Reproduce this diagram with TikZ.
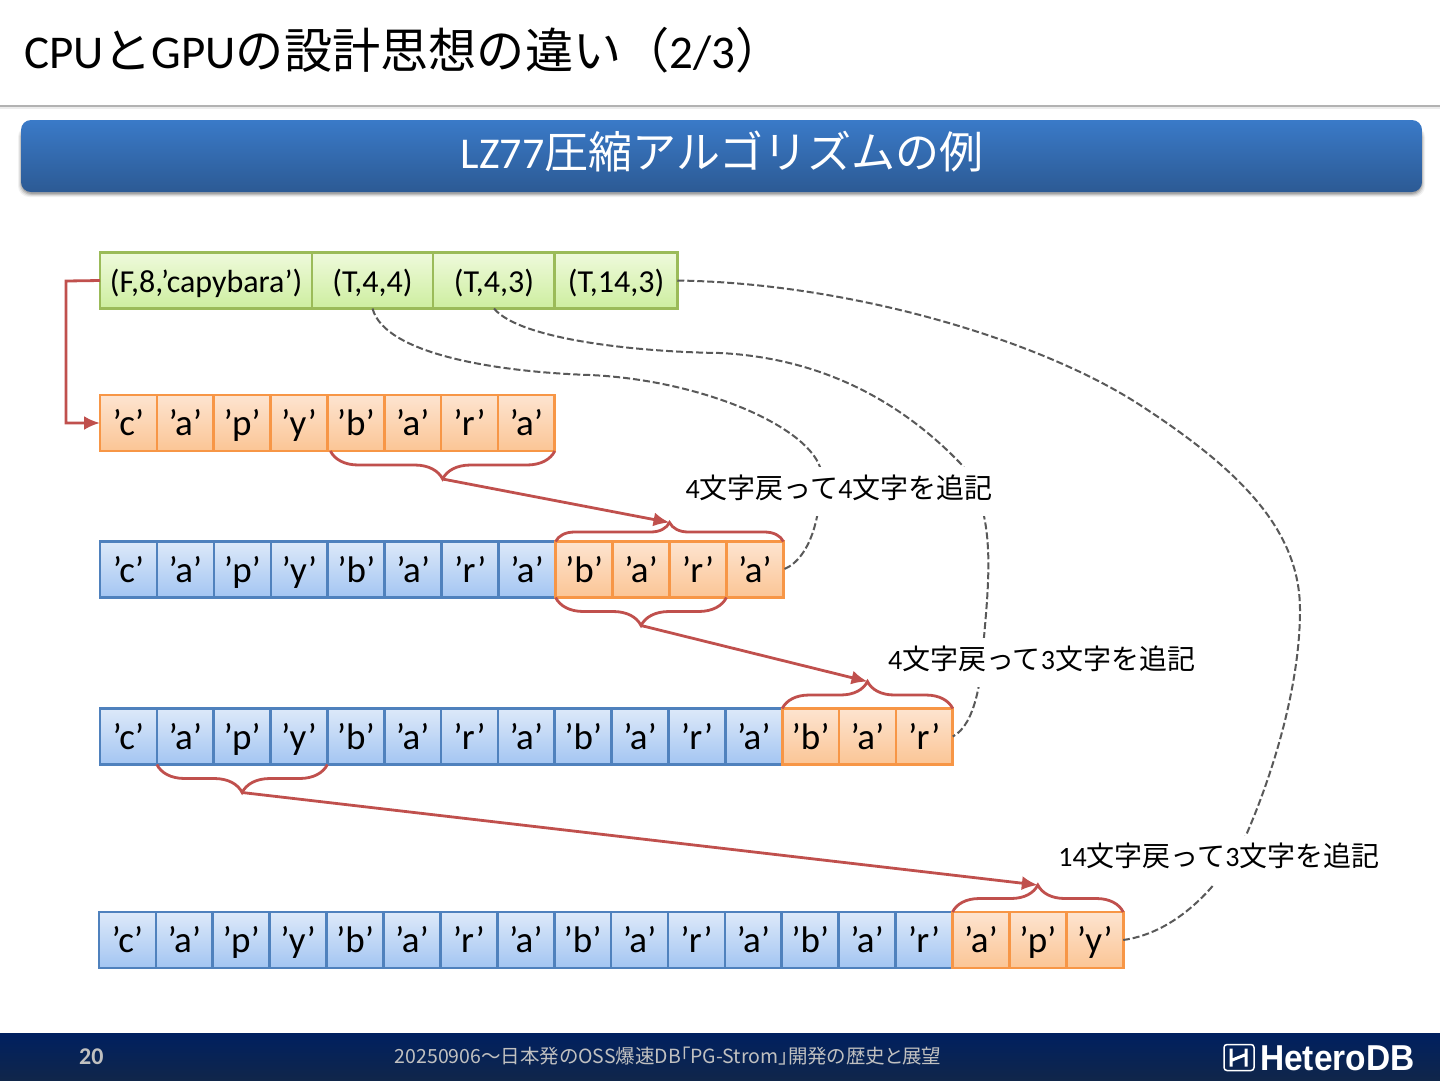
\documentclass[tikz,border=0pt]{standalone}
\usepackage{fontspec}
\usetikzlibrary{arrows.meta,calc,decorations.pathreplacing,shadings}
\setmainfont{Carlito}
\newfontfamily\cjk{Noto Sans CJK JP}
\newfontfamily\cjkp[RawFeature=+palt]{Noto Sans CJK JP}
\newfontfamily\logofont{Liberation Sans}
\newcommand\J[1]{{\cjk #1}}
\newcommand\fsz[1]{\fontsize{#1}{#1}\selectfont}
\definecolor{redline}{HTML}{C0504D}
\definecolor{orangeedge}{HTML}{F79646}
\definecolor{greenedge}{HTML}{9BBB59}
\definecolor{blueedge}{HTML}{4F81BD}
\definecolor{dashgray}{HTML}{595959}
\definecolor{bluetop}{HTML}{DDE9F9}
\definecolor{bluebot}{HTML}{A3C5F2}
\definecolor{greentop}{HTML}{EFFADC}
\definecolor{greenbot}{HTML}{CDEE9F}
\definecolor{orangetop}{HTML}{FDE4D0}
\definecolor{orangebot}{HTML}{FBC595}
\definecolor{foottxt}{HTML}{C0C0C0}
\tikzset{
  x=1pt,y=-1pt,
  basecell/.style={draw,line width=2.7pt,inner sep=0pt,outer sep=0pt,text=black,
    minimum height=56pt,text height=30pt,text depth=5pt,font=\fsz{37}},
  cellblue/.style={basecell,draw=blueedge,top color=bluetop,bottom color=bluebot},
  cellorange/.style={basecell,draw=orangeedge,top color=orangetop,bottom color=orangebot},
  cellgreen/.style={basecell,draw=greenedge,top color=greentop,bottom color=greenbot,
    text height=29pt,text depth=5pt,font=\fsz{32}},
  bracedown/.style={draw=redline,line width=2.8pt,decorate,decoration={brace,mirror,amplitude=28pt,raise=0pt}},
  braceup/.style={draw=redline,line width=2.8pt,decorate,decoration={brace,amplitude=#1,raise=0pt}},
  redarrow/.style={draw=redline,line width=2.8pt,-{Latex[length=16pt,width=14pt]}},
  dashcurve/.style={draw=dashgray,line width=2pt,dash pattern=on 7pt off 3pt},
  note/.style={fill=white,inner xsep=0pt,inner ysep=5pt,text height=26pt,text depth=13pt,font=\fsz{28}},
}
\newcommand\cellrow[6]{%
  \foreach \t [count=\i] in {#6}{%
    \ifnum\i>#5\relax\def\st{cellorange}\else\def\st{cellblue}\fi
    \node[\st,minimum width=#3 pt] (#1c\i) at ({#2+(\i-.5)*#3},#4) {’\t’};
  }%
}
\begin{document}
\begin{tikzpicture}
\useasboundingbox (0,0) rectangle (1440,1080);
\fill[white] (0,0) rectangle (1440,1080);
% header
\fill[gray!15] (0,106) rectangle (1440,109);
\fill[gray!60] (0,104.5) rectangle (1440,106.5);
\node[anchor=base west,inner sep=0pt,font=\fsz{47},text=black] (title) at (24,68)
  {CPU{\fsz{48.2}\J{と}}GPU{\fsz{48.2}\J{の設計思想の違い（}}2/3{\fsz{48.2}\J{）}}};
% band
\foreach \o/\e in {.05/3,.08/2,.12/1,.15/0}{
  \fill[black,opacity=\o,rounded corners=11pt] (21-\e,126) rectangle (1422+\e,194+\e);
}
\node[rounded corners=10pt,minimum width=1401pt,minimum height=72pt,inner sep=0pt,
  top color={rgb,255:red,58;green,122;blue,200},bottom color={rgb,255:red,44;green,90;blue,148}] (band) at (721.5,156) {};
\node[anchor=base,inner sep=0pt,text=white,font=\fsz{44}] (bandtext) at (722,168)
  {LZ77\J{圧縮アルゴリズムの例}};
% row 1
\node[cellgreen,minimum width=212pt] (a1) at (206,280.5) {(F,8,’capybara’)};
\node[cellgreen,minimum width=121pt] (a2) at (372.5,280.5) {(T,4,4)};
\node[cellgreen,minimum width=122pt] (a3) at (494,280.5) {(T,4,3)};
\node[cellgreen,minimum width=122.5pt] (a4) at (616,280.5) {(T,14,3)};
% cell rows
\cellrow{r2}{100}{56.85}{423}{0}{c,a,p,y,b,a,r,a}
\cellrow{r3}{100}{56.95}{569.5}{8}{c,a,p,y,b,a,r,a,b,a,r,a}
\cellrow{r4}{100}{56.85}{736.5}{12}{c,a,p,y,b,a,r,a,b,a,r,a,b,a,r}
\cellrow{r5}{99}{56.9}{940}{15}{c,a,p,y,b,a,r,a,b,a,r,a,b,a,r,a,p,y}
% dashed curves
\draw[dashcurve] (a2.south) .. controls (385,355) and (500,372) .. (590,375)
  .. controls (700,380) and (805,425) .. (820,467)
  .. controls (823,510) and (812,558) .. (r3c12.east);
\draw[dashcurve] (a3.south) .. controls (520,340) and (640,352) .. (720,353)
  .. controls (820,358) and (900,400) .. (962,465)
  .. controls (995,510) and (990,570) .. (984,637)
  .. controls (982,680) and (975,725) .. (r4c15.east);
\draw[dashcurve] (a4.east) .. controls (850,283) and (1040,340) .. (1140,405)
  .. controls (1240,470) and (1300,530) .. (1300,610)
  .. controls (1300,690) and (1270,780) .. (1247,833)
  .. controls (1225,880) and (1180,932) .. (r5c18.east);
% notes
\node[note,minimum width=310pt] (n1) at (839,491.5) {4\J{文字戻って}4\J{文字を追記}};
\node[note,minimum width=310pt] (n2) at (1041.5,662.5) {4\J{文字戻って}3\J{文字を追記}};
\node[note,minimum width=324pt] (n3) at (1219,860) {14\J{文字戻って}3\J{文字を追記}};
% red elbow
\coordinate (elbow1) at (66,281);
\coordinate (elbow2) at (66,423);
\draw[redarrow] (a1.west) -- (elbow1) -- (elbow2) -- (r2c1.west);
% braces
\coordinate (b1a) at ($(r2c5.south west)+(3,0)$);
\draw[bracedown] (b1a) -- (r2c8.south east);
\draw[braceup=19pt] (r3c9.north west) -- (r3c12.north east);
\draw[bracedown] (r3c9.south west) -- (r3c11.south east);
\draw[braceup=27pt] (r4c13.north west) -- (r4c15.north east);
\draw[bracedown] (r4c2.south west) -- (r4c4.south east);
\draw[braceup=27pt] (r5c16.north west) -- (r5c18.north east);
% brace tips and arrows
\coordinate (t1) at ($(b1a)!.5!(r2c8.south east)+(0,28)$);
\coordinate (h1) at ($(r3c9.north west)!.5!(r3c12.north east)+(0,-19)$);
\coordinate (t2) at ($(r3c9.south west)!.5!(r3c11.south east)+(0,28)$);
\coordinate (h2) at ($(r4c13.north west)!.5!(r4c15.north east)+(0,-27)$);
\coordinate (t3) at ($(r4c2.south west)!.5!(r4c4.south east)+(0,28)$);
\coordinate (h3) at ($(r5c16.north west)!.5!(r5c18.north east)+(0,-27)$);
\draw[redarrow] (t1) -- (h1);
\draw[redarrow] (t2) -- (h2);
\draw[redarrow] (t3) -- (h3);
% footer
\node[anchor=north west,minimum width=1440pt,minimum height=47pt,inner sep=0pt,
  top color={rgb,255:red,0;green,32;blue,96},bottom color={rgb,255:red,16;green,38;blue,74}] (foot) at (0,1033) {};
\node[anchor=base west,inner sep=0pt,text=foottxt,font=\fsz{24}\bfseries] (pg) at (79,1064) {20};
\node[anchor=base,inner sep=0pt,text=foottxt,font=\cjkp\fsz{19.5}] (foottext) at (668,1063)
  {20250906～日本発のOSS爆速DB「PG-Strom」開発の歴史と展望};
\node[draw=white,line width=1.5pt,rounded corners=3pt,minimum width=30pt,minimum height=26pt,inner sep=0pt] (logobox) at (1239,1057.5) {};
\draw[white,line width=3pt] ($(logobox.center)+(-8,-9)$) -- ($(logobox.center)+(-8,9)$)
  ($(logobox.center)+(7,-9)$) -- ($(logobox.center)+(7,9)$)
  ($(logobox.center)+(-8,3)$) -- ($(logobox.center)+(7,-3)$);
\node[anchor=base west,inner sep=0pt,text=white,xscale=.93,font=\logofont\bfseries\fsz{36}] (logotext) at (1260,1070) {HeteroDB};
\end{tikzpicture}
\end{document}
